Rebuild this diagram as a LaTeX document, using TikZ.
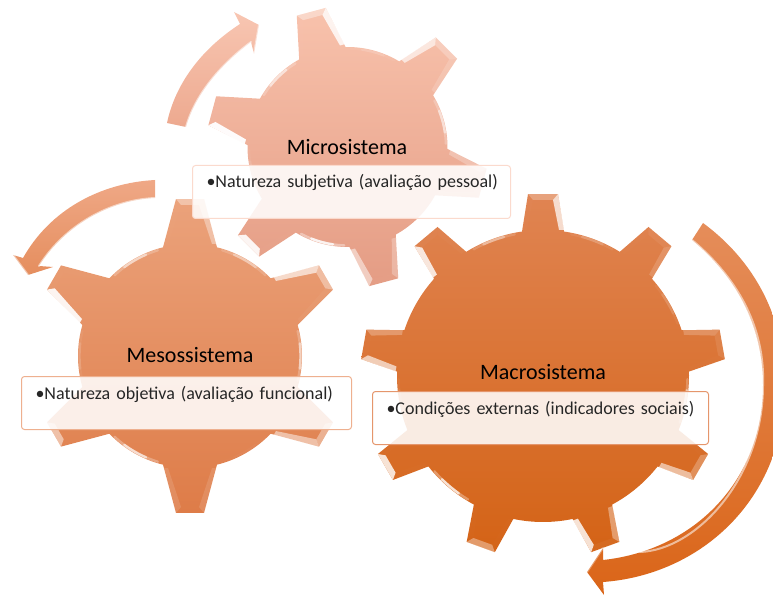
\documentclass[tikz,border=0pt]{standalone}
\usepackage{fontspec}
\setmainfont{Carlito}
\tikzset{
  x=1pt,y=1pt,
  gearhi/.style={fill=white,draw=none},
  ttl/.style={font=\fontsize{22}{26}\selectfont,text=black,inner sep=0pt},
  infobox/.style={rectangle,rounded corners=3pt,fill=white,fill opacity=.87,text opacity=1,
    line width=1pt,align=left,anchor=north west,inner ysep=0pt,inner xsep=14pt,
    text height=22.5pt,text depth=30.5pt,text=black!85,font=\fontsize{18}{21}\selectfont},
  arrowhi/.style={line width=2pt,draw=white,opacity=.55,line cap=round},
}
% #1 cx #2 cy(px) #3 r #4 Rtip #5 base half width #6 tip half width #7 step #8 first angle #9 count-1
\newcommand{\geardef}[9]{%
  \def\gcx{#1}\pgfmathsetmacro{\gcy}{595-#2}\def\gr{#3}\def\gR{#4}\def\gwb{#5}\def\gwt{#6}\def\gst{#7}\def\gfirst{#8}\def\gn{#9}%
  \pgfmathsetmacro{\gba}{asin(#5/#3)}\pgfmathsetmacro{\gta}{atan(#6/#4)}\pgfmathsetmacro{\gRt}{veclen(#4,#6)}%
  \pgfmathsetmacro{\grr}{#3-1.5}%
}
\newcommand{\gearshape}[2]{%
  \begin{scope}[shift={(\gcx,\gcy)}]
  \shade[top color=#1,bottom color=#2]
    ({\gfirst+\gba}:\gr) foreach \i [evaluate=\i as \a using \gfirst-\i*\gst] in {0,...,\gn} {
      -- ({\a+\gta}:\gRt) -- ({\a-\gta}:\gRt) -- ({\a-\gba}:\gr)
      arc[start angle={\a-\gba},end angle={\a-\gst+\gba},radius=\gr]
    } -- cycle;
  \end{scope}}
% tuples: angle/left/tip/right/gap opacity to next tooth clockwise
\newcommand{\gearbevel}[1]{%
  \begin{scope}[shift={(\gcx,\gcy)}]
  \foreach \a/\l/\t/\r/\g in {#1} {
    \pgfmathsetmacro{\ol}{\l*\l}\pgfmathsetmacro{\ot}{\t*\t}\pgfmathsetmacro{\orr}{\r*\r}
    \pgfmathsetmacro{\og}{\g*\g}\pgfmathsetmacro{\ogg}{\g*\g*0.45}
    \pgfmathsetmacro{\gs}{\a-\gba-3}\pgfmathsetmacro{\ge}{\a-\gst+\gba+3}
    \pgfmathsetmacro{\gq}{(\ge-\gs)/4}
    \begin{scope}[rotate={\a-90}]
      \fill[gearhi,opacity=\ol] (-\gwt,\gR) -- (-\gwb,\gr) -- ({-\gwb+5},\gr) -- ({-\gwt+5},{\gR-6}) -- cycle;
      \fill[gearhi,opacity=\ot] (-\gwt,\gR) -- (\gwt,\gR) -- ({\gwt-5},{\gR-6}) -- ({-\gwt+5},{\gR-6}) -- cycle;
      \fill[gearhi,opacity=\orr] (\gwt,\gR) -- (\gwb,\gr) -- ({\gwb-5},\gr) -- ({\gwt-5},{\gR-6}) -- cycle;
    \end{scope}
    \draw[white,opacity=\ogg,line width=2.4pt,line cap=round] (\gs:\grr)
      arc[start angle=\gs,end angle=\ge,radius=\grr];
    \draw[white,opacity=\og,line width=2.4pt,line cap=round] ({\gs+\gq}:\grr)
      arc[start angle={\gs+\gq},end angle={\ge-\gq},radius=\grr];
  }
  \end{scope}}
\begin{document}
\begin{tikzpicture}
\useasboundingbox (0,0) rectangle (773,595);
\clip (0,0) rectangle (773,595);

% ---------- gears
\definecolor{macT}{HTML}{E08452}\definecolor{macB}{HTML}{D46316}
\definecolor{mesT}{HTML}{EBA27B}\definecolor{mesB}{HTML}{DE7C48}
\definecolor{micT}{HTML}{F8C2AC}\definecolor{micB}{HTML}{E49C84}
\geardef{543}{376}{146}{182}{21}{15}{40}{90}{8}
\gearshape{macT}{macB}
\gearbevel{90/.1/.5/.85/.4, 50/.1/.25/.4/.35, 10/.45/.3/.1/.7, -30/.1/.5/.75/0, -70/.6/.2/.9/0,
  -110/.1/.6/.1/.85, -150/.1/.9/.1/.3, 170/.8/.1/.5/0, 130/.9/.15/.15/.6}
\geardef{190}{356}{112}{157}{27}{14}{60}{90}{5}
\gearshape{mesT}{mesB}
\gearbevel{90/.1/.6/.6/.6, 30/.8/.6/.2/.7, -30/.1/.6/.7/.15, -90/.35/0/.35/.8, -150/.05/.7/.1/.35, 150/.95/.1/.1/.7}
\geardef{347.5}{147}{100}{140}{24}{15}{60}{105}{5}
\gearshape{micT}{micB}
\gearbevel{105/.1/.6/.9/.35, 45/.8/.5/.4/.7, -15/.5/.2/.1/.1, -75/.5/.1/.7/.9, -135/.1/.95/0/.3, 165/.98/.1/.1/.7}

% ---------- everything else in reference pixel coordinates
\begin{scope}[yshift=595pt,y=-1pt]
  % macro arrow
  \definecolor{aMacT}{HTML}{E58D5A}\definecolor{aMacB}{HTML}{DA6518}
  \coordinate (m1) at (703,223); \coordinate (m2) at (603,582); \coordinate (m3) at (604,595);
  \coordinate (m4) at (587,572); \coordinate (m5) at (603,548); \coordinate (m6) at (603,560);
  \coordinate (m7) at (692,240); \coordinate (m8) at (785,385); \coordinate (m9) at (763,385);
  \shade[top color=aMacT,bottom color=aMacB]
    (m1) .. controls (760,265) and (785,325) .. (m8) .. controls (785,500) and (700,575) .. (m2)
    -- (m3) -- (m4) -- (m5) -- (m6)
    .. controls (695,550) and (763,480) .. (m9) .. controls (763,330) and (740,280) .. (m7) -- cycle;
  \draw[arrowhi] (m7) .. controls (740,280) and (765,330) .. (m9)
     .. controls (763,480) and (695,550) .. (640,552);
  \draw[arrowhi,opacity=.35] (m4) -- (m5);

  % meso arrow
  \definecolor{aMesT}{HTML}{EFA886}\definecolor{aMesB}{HTML}{E58E5E}
  \coordinate (e1) at (155,180); \coordinate (e2) at (23,258); \coordinate (e3) at (13,255);
  \coordinate (e4) at (28,275); \coordinate (e5) at (53,267); \coordinate (e6) at (39,266);
  \coordinate (e7) at (155,198);
  \shade[top color=aMesT,bottom color=aMesB]
    (e1) .. controls (100,183) and (50,210) .. (e2) -- (e3) -- (e4) -- (e5) -- (e6)
    .. controls (65,225) and (110,200) .. (e7) -- cycle;
  \draw[arrowhi] (e6) .. controls (65,225) and (110,200) .. (e7);
  \draw[arrowhi,opacity=.5] (e3) -- (e4);

  % micro arrow
  \definecolor{aMicT}{HTML}{F8C6B2}\definecolor{aMicB}{HTML}{EDA98F}
  \coordinate (i1) at (167,123); \coordinate (i2) at (240,24); \coordinate (i3) at (234,12);
  \coordinate (i4) at (259,25); \coordinate (i5) at (254,54); \coordinate (i6) at (251,42);
  \coordinate (i7) at (186,127);
  \shade[top color=aMicT,bottom color=aMicB]
    (i1) .. controls (175,85) and (200,50) .. (i2) -- (i3) -- (i4) -- (i5) -- (i6)
    .. controls (220,65) and (195,95) .. (i7) -- cycle;
  \draw[arrowhi] (i6) .. controls (220,65) and (195,95) .. (i7);
  \draw[arrowhi,opacity=.5] (i4) -- (i5);

  % boxes
  \node[infobox,draw=macT!85,minimum width=336pt,text width=308pt] (macbox) at (372,391) {\mbox{•Condições externas (indicadores sociais)}};
  \node[infobox,draw=mesT!85,minimum width=330pt,text width=302pt] (mesbox) at (21,376) {\mbox{•Natureza objetiva (avaliação funcional)}};
  \node[infobox,draw=micT!60,minimum width=318pt,text width=290pt] (micbox) at (192,165) {\mbox{•Natureza subjetiva (avaliação pessoal)}};

  % titles
  \node[ttl] (mactitle) at (543,372) {Macrosistema};
  \node[ttl] (mestitle) at (190,355) {Mesossistema};
  \node[ttl] (mictitle) at (347,147) {Microsistema};
\end{scope}
\end{tikzpicture}
\end{document}
